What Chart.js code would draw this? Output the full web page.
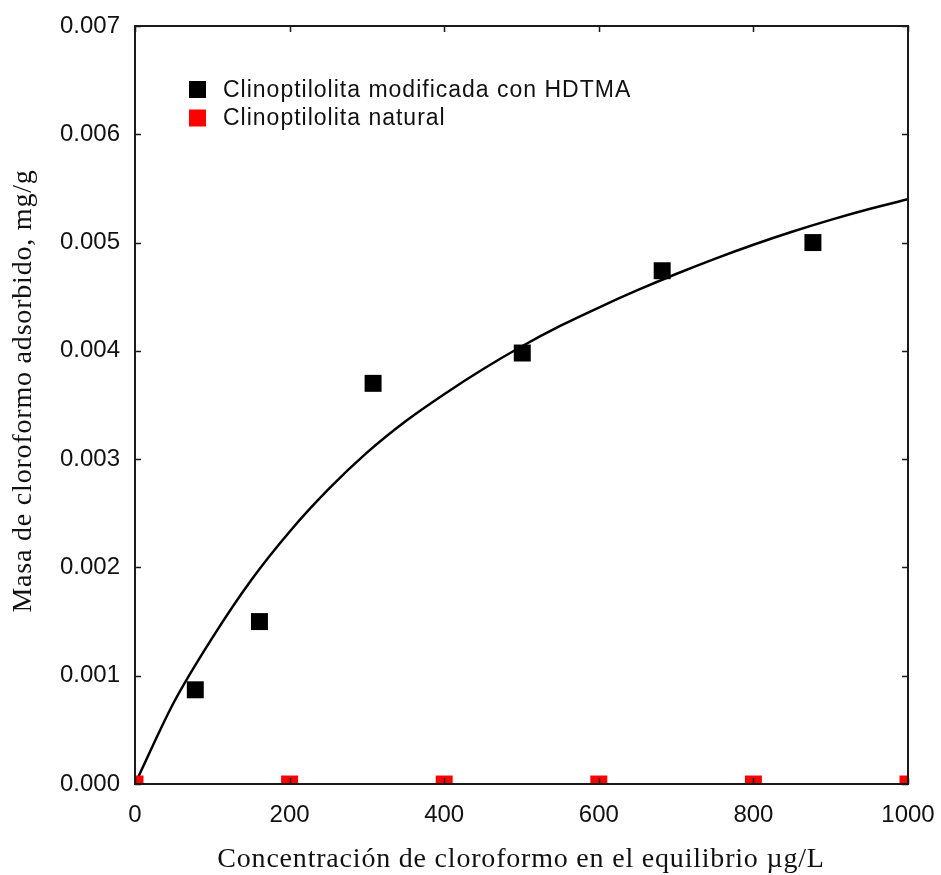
<!DOCTYPE html>
<html>
<head>
<meta charset="utf-8">
<script src="https://cdn.jsdelivr.net/npm/chart.js@4.4.1/dist/chart.umd.min.js"></script>
<style>
  html, body { margin: 0; padding: 0; background: #fff; }
  #wrap { width: 941px; height: 875px; }
</style>
</head>
<body>
<div id="wrap"><canvas id="c" width="941" height="875"></canvas></div>
<script>
// Adsorption data (x: equilibrium concentration, µg/L; y: mass adsorbed, mg/g)
const modX = [78, 161, 308, 501, 682, 877];
const modY = [0.00087, 0.0015, 0.0037, 0.00398, 0.00474, 0.005];

const natX = [0, 200, 400, 600, 800, 1000];
const natY = [0, 0, 0, 0, 0, 0];

// Fitted isotherm curve
const fitX = [0, 50, 100, 150, 200, 250, 300, 350, 400, 450, 500, 550, 600, 650, 700, 750, 800, 850, 900, 950, 1000];
const fitY = [0, 0.00075, 0.00135, 0.00188, 0.00233, 0.00272, 0.00306, 0.00335, 0.0036, 0.00383, 0.00404,
              0.00423, 0.0044, 0.00456, 0.00471, 0.00485, 0.00498, 0.0051, 0.00521, 0.00531, 0.0054];

const xTicks = [0, 200, 400, 600, 800, 1000];
const yTicks = [0, 0.001, 0.002, 0.003, 0.004, 0.005, 0.006, 0.007];

const seriesLabels = ['Clinoptilolita modificada con HDTMA', 'Clinoptilolita natural'];
const xTitle = 'Concentración de cloroformo en el equilibrio µg/L';
const yTitle = 'Masa de cloroformo adsorbido, mg/g';

const pts = (xs, ys) => xs.map((x, i) => ({ x, y: ys[i] }));

// Frame, inward tick marks, legend and axis titles
const decor = {
  id: 'decor',
  afterDatasetsDraw(chart) {
    const { ctx, chartArea: a, scales: { x, y } } = chart;
    const L = 6;
    ctx.save();
    ctx.strokeStyle = '#1a1a1a';
    ctx.lineWidth = 1.5;
    ctx.beginPath();
    xTicks.forEach(v => {
      const px = Math.round(x.getPixelForValue(v)) + 0.5;
      ctx.moveTo(px, a.bottom); ctx.lineTo(px, a.bottom - L);
      ctx.moveTo(px, a.top); ctx.lineTo(px, a.top + L);
    });
    yTicks.forEach(v => {
      const py = Math.round(y.getPixelForValue(v)) + 0.5;
      ctx.moveTo(a.left, py); ctx.lineTo(a.left + L, py);
      ctx.moveTo(a.right, py); ctx.lineTo(a.right - L, py);
    });
    ctx.stroke();
    ctx.lineWidth = 2;
    ctx.strokeRect(a.left, a.top, a.right - a.left, a.bottom - a.top);

    // legend
    const ds = chart.data.datasets.filter(d => d.label);
    ctx.font = '23px "Liberation Sans", Arial, sans-serif';
    ctx.letterSpacing = '1px';
    ctx.textBaseline = 'middle';
    ctx.textAlign = 'left';
    ds.forEach((d, i) => {
      const cy = 89.5 + i * 28.5;
      ctx.fillStyle = d.backgroundColor;
      ctx.fillRect(189, cy - 8.5, 17, 17);
      ctx.fillStyle = '#111';
      ctx.fillText(d.label, 223, cy + 1);
    });

    // axis titles
    ctx.fillStyle = '#111';
    ctx.font = '28px "Liberation Serif", "Times New Roman", serif';
    ctx.letterSpacing = '0.8px';
    ctx.textAlign = 'center';
    ctx.textBaseline = 'alphabetic';
    ctx.fillText(xTitle, 521, 867);
    ctx.save();
    ctx.translate(31, 391);
    ctx.rotate(-Math.PI / 2);
    ctx.fillText(yTitle, 0, 0);
    ctx.restore();
    ctx.restore();
  }
};

new Chart(document.getElementById('c'), {
  type: 'scatter',
  data: {
    datasets: [
      {
        data: pts(fitX, fitY),
        showLine: true,
        borderColor: '#000',
        borderWidth: 2.5,
        pointRadius: 0,
        cubicInterpolationMode: 'monotone',
        order: 3
      },
      {
        label: seriesLabels[0],
        data: pts(modX, modY),
        pointStyle: 'rect',
        pointRadius: 12,
        pointHoverRadius: 12,
        backgroundColor: '#000',
        borderWidth: 0,
        order: 2
      },
      {
        label: seriesLabels[1],
        data: pts(natX, natY),
        pointStyle: 'rect',
        pointRadius: 12,
        pointHoverRadius: 12,
        backgroundColor: '#ff0000',
        borderWidth: 0,
        clip: 0,
        order: 1
      }
    ]
  },
  options: {
    responsive: false,
    animation: false,
    events: [],
    layout: { padding: { left: 0, right: 33, top: 26, bottom: 0 } },
    plugins: { legend: { display: false }, tooltip: { enabled: false } },
    scales: {
      x: {
        type: 'linear',
        min: 0, max: 1000,
        afterBuildTicks: s => { s.ticks = xTicks.map(v => ({ value: v })); },
        afterFit: s => { s.height = 91; s.paddingLeft = 0; s.paddingRight = 0; },
        grid: { display: false, drawTicks: false },
        border: { display: false },
        ticks: {
          padding: 17,
          color: '#111',
          callback: v => String(v),
          font: { family: '"Liberation Sans", Arial, sans-serif', size: 24 }
        }
      },
      y: {
        type: 'linear',
        min: 0, max: 0.007,
        afterBuildTicks: s => { s.ticks = yTicks.map(v => ({ value: v })); },
        afterFit: s => { s.width = 135; s.paddingTop = 0; s.paddingBottom = 0; },
        grid: { display: false, drawTicks: false },
        border: { display: false },
        ticks: {
          padding: 15,
          color: '#111',
          callback: v => v.toFixed(3),
          font: { family: '"Liberation Sans", Arial, sans-serif', size: 24 }
        }
      }
    }
  },
  plugins: [decor]
});
</script>
</body>
</html>
